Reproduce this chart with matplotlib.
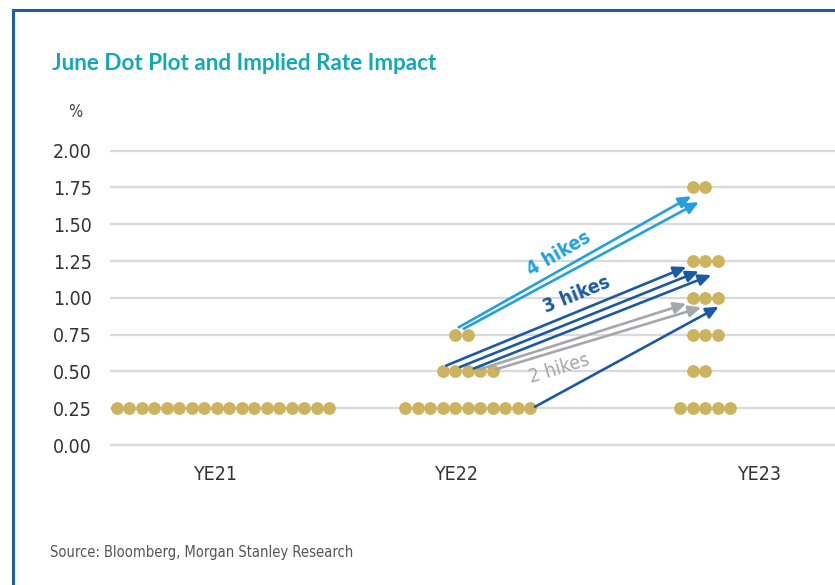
import matplotlib
matplotlib.use("Agg")
import matplotlib.pyplot as plt
from matplotlib.lines import Line2D

# Dot plot data: (year index, rate, number of dots, first slot)
years = ["YE21", "YE22", "YE23"]
dot_rows = [
    (0, 0.25, 18, 0),
    (1, 0.25, 11, 0),
    (1, 0.50, 5, 3),
    (1, 0.75, 2, 4),
    (2, 1.75, 2, 1),
    (2, 1.25, 3, 1),
    (2, 1.00, 3, 1),
    (2, 0.75, 3, 1),
    (2, 0.50, 2, 1),
    (2, 0.25, 5, 0),
]

# implied paths (x in dot slots, y in %)
arrows_4 = [((27.9, 0.80), (46.5, 1.69)), ((28.3, 0.79), (47.1, 1.65))]
arrows_3 = [((26.9, 0.54), (46.1, 1.21)), ((28.0, 0.53), (47.1, 1.18)),
            ((29.1, 0.52), (48.1, 1.155)), ((34.0, 0.26), (48.7, 0.94))]
arrows_2 = [((29.6, 0.515), (46.1, 0.96)), ((30.9, 0.515), (47.3, 0.935))]

yticks = [0.0, 0.25, 0.5, 0.75, 1.0, 1.25, 1.5, 1.75, 2.0]

# layout
group_start = [0.54, 23.6, 45.6]
label_x = [8.44, 27.72, 51.92]

DOT = "#cbb35f"
LBLUE = "#22a1dc"
DBLUE = "#1b5aa2"
GREY = "#a6a6ad"
NARROW = dict(family=["DejaVu Sans"], fontstretch="condensed")

fig = plt.figure(figsize=(8.35, 5.85), dpi=100)
ax = fig.add_axes([110 / 835, 1 - 452.4 / 585, 725 / 835, 309.1 / 585])
ax.set_xlim(0, 58)
ax.set_ylim(-0.05, 2.05)

for y in yticks:
    ax.axhline(y, color="#dadada", lw=1.6, zorder=0)

for yi, rate, n, first in dot_rows:
    xs = [group_start[yi] + first + k for k in range(n)]
    ax.plot(xs, [rate] * n, "o", ms=9.2, color=DOT, mec="none", zorder=2)

def draw(arrows, color):
    for (x0, y0), (x1, y1) in arrows:
        ax.annotate("", xy=(x1, y1), xytext=(x0, y0),
                    arrowprops=dict(arrowstyle="-|>,head_length=0.75,head_width=0.34",
                                    color=color, lw=1.9, shrinkA=0, shrinkB=0),
                    zorder=3)

draw(arrows_2, GREY)
draw(arrows_3, DBLUE)
draw(arrows_4, LBLUE)

ax.text(35.9, 1.30, "4 hikes", color=LBLUE, fontsize=14, fontweight="bold",
        rotation=30, ha="center", va="center", **NARROW)
ax.text(37.3, 1.02, "3 hikes", color=DBLUE, fontsize=14, fontweight="bold",
        rotation=22, ha="center", va="center", **NARROW)
ax.text(35.9, 0.52, "2 hikes", color=GREY, fontsize=14,
        rotation=17, ha="center", va="center", **NARROW)

ax.set_yticks(yticks)
ax.set_yticklabels([f"{v:.2f}" for v in yticks], fontsize=14, color="#333333",
                   **NARROW)
ax.set_xticks(label_x)
ax.set_xticklabels(years, fontsize=14, color="#333333", **NARROW)
ax.tick_params(axis="y", length=0, pad=13)
ax.tick_params(axis="x", length=0, pad=9)
for s in ax.spines.values():
    s.set_visible(False)

fig.text(68 / 835, 1 - 112 / 585, "%", fontsize=12, color="#444444",
         va="center", **NARROW)
fig.text(52 / 835, 1 - 64 / 585, "June Dot Plot and Implied Rate Impact",
         family=["Lato", "DejaVu Sans"], fontweight="bold", fontsize=16.2,
         color="#12a8b4", va="center")
fig.text(50 / 835, 1 - 553 / 585, "Source: Bloomberg, Morgan Stanley Research",
         fontsize=10.5, color="#555555", va="center", **NARROW)

# frame lines on left and top
fig.add_artist(Line2D([13 / 835, 13 / 835], [0, 1 - 10 / 585], color="#1f5ea6", lw=2.2))
fig.add_artist(Line2D([13 / 835, 1], [1 - 10 / 585, 1 - 10 / 585], color="#1f5ea6", lw=2.2))

fig.savefig("out.png", dpi=100)
